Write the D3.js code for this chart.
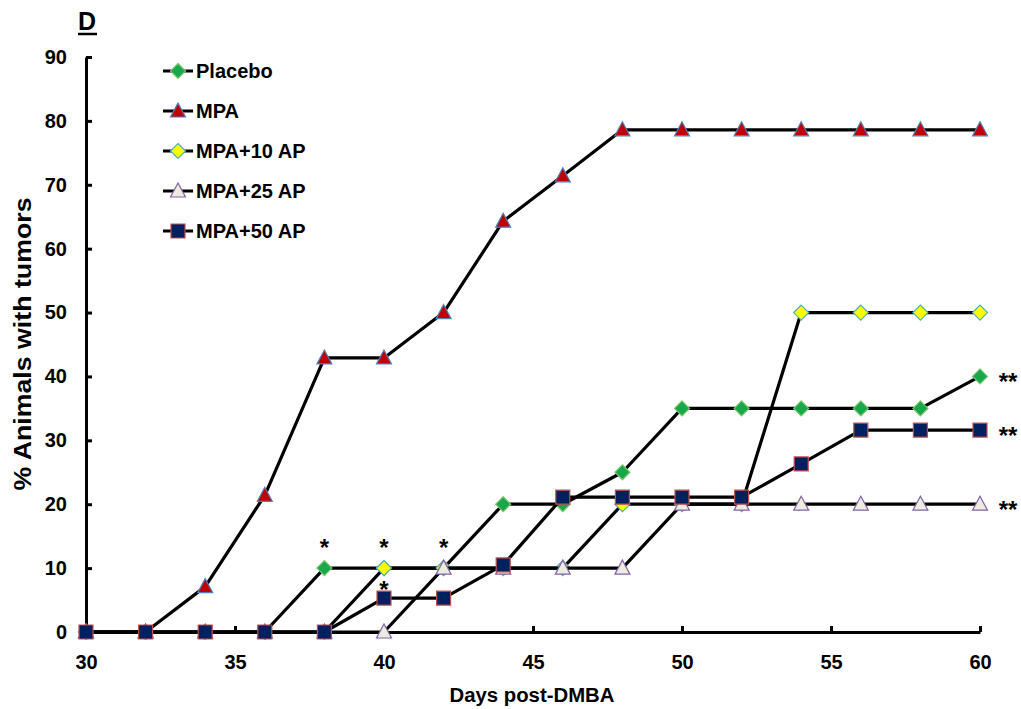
<!DOCTYPE html>
<html>
<head>
<meta charset="utf-8">
<script src="https://cdn.jsdelivr.net/npm/d3@7"></script>
<style>
  html, body { margin: 0; padding: 0; background: #fff; }
  svg { display: block; }
  text { font-family: "Liberation Sans", Arial, sans-serif; font-weight: bold; fill: #000; }
</style>
</head>
<body>
<svg id="chart" width="1021" height="709"></svg>
<script>
// ---- data ----
const days = [30, 32, 34, 36, 38, 40, 42, 44, 46, 48, 50, 52, 54, 56, 58, 60];
const placebo = [0, 0, 0, 0, 10, 10, 10, 20, 20, 25, 35, 35, 35, 35, 35, 40];
const mpa     = [0, 0, 7.1, 21.4, 42.9, 42.9, 50, 64.3, 71.4, 78.6, 78.6, 78.6, 78.6, 78.6, 78.6, 78.6];
const mpa10   = [0, 0, 0, 0, 0, 10, 10, 10, 10, 20, 20, 20, 50, 50, 50, 50];
const mpa25   = [0, 0, 0, 0, 0, 0, 10, 10, 10, 10, 20, 20, 20, 20, 20, 20];
const mpa50   = [0, 0, 0, 0, 0, 5.3, 5.3, 10.5, 21.1, 21.1, 21.1, 21.1, 26.3, 31.6, 31.6, 31.6];
const seriesNames = ["Placebo", "MPA", "MPA+10 AP", "MPA+25 AP", "MPA+50 AP"];
const xTicks = [30, 35, 40, 45, 50, 55, 60];
const yTicks = [0, 10, 20, 30, 40, 50, 60, 70, 80, 90];
const xTitle = "Days post-DMBA";
const yTitle = "% Animals with tumors";
const panelLabel = "D";
// significance marks: [day, series index, label, placement]
const marks = [
  [38, 0, "*", "above"],
  [40, 2, "*", "above"],
  [42, 3, "*", "above"],
  [40, 4, "*", "aboveNear"],
  [60, 0, "**", "right"],
  [60, 4, "**", "right"],
  [60, 3, "**", "right"]
];

// ---- styles ----
const styles = [
  { shape: "diamond",  fill: "#17a84b", stroke: "#7dc46e" },
  { shape: "triangle", fill: "#c00000", stroke: "#4f81bd" },
  { shape: "diamond",  fill: "#ffff00", stroke: "#4bacc6" },
  { shape: "triangle", fill: "#eeece1", stroke: "#8064a2" },
  { shape: "square",   fill: "#002060", stroke: "#c0504d" }
];
const allValues = [placebo, mpa, mpa10, mpa25, mpa50];

const svg = d3.select("#chart");
const x = d3.scaleLinear().domain([30, 60]).range([86, 980]);
const y = d3.scaleLinear().domain([0, 90]).range([632, 57]);

function shapePath(shape) {
  if (shape === "diamond") return "M0,-7.5L7.5,0L0,7.5L-7.5,0Z";
  if (shape === "triangle") return "M0,-8L7.5,6L-7.5,6Z";
  return "M-7,-7H7V7H-7Z";
}

// ---- axes ----
const xAxis = d3.axisBottom(x).tickValues(xTicks).tickSizeInner(-6).tickSizeOuter(0).tickPadding(23)
  .tickFormat(d3.format("d"));
const yAxis = d3.axisLeft(y).tickValues(yTicks).tickSizeInner(-6).tickSizeOuter(0).tickPadding(19)
  .tickFormat(d3.format("d"));

const gx = svg.append("g").attr("transform", "translate(0,632)").call(xAxis);
const gy = svg.append("g").attr("transform", "translate(86,0)").call(yAxis);
[gx, gy].forEach(g => {
  g.select(".domain").attr("stroke", "#000").attr("stroke-width", 3);
  g.selectAll(".tick line").attr("stroke", "#000").attr("stroke-width", 3);
  g.selectAll(".tick text").attr("font-size", 20).attr("font-family", "Liberation Sans, Arial, sans-serif")
    .attr("font-weight", "bold").attr("fill", "#000");
});

// axis titles
svg.append("text").attr("x", 532).attr("y", 702).attr("text-anchor", "middle")
  .attr("font-size", 19.5).attr("textLength", 165).attr("lengthAdjust", "spacingAndGlyphs").text(xTitle);
svg.append("text").attr("transform", "translate(31,344) rotate(-90)").attr("text-anchor", "middle")
  .attr("font-size", 23).attr("textLength", 293).attr("lengthAdjust", "spacingAndGlyphs").text(yTitle);

// panel label
svg.append("text").attr("x", 78).attr("y", 30).attr("font-size", 25).text(panelLabel);
svg.append("line").attr("x1", 78).attr("x2", 97).attr("y1", 34).attr("y2", 34)
  .attr("stroke", "#000").attr("stroke-width", 2.5);

// ---- series ----
const line = d3.line().x(d => x(d[0])).y(d => y(d[1]));
allValues.forEach((vals, i) => {
  const pts = days.map((d, j) => [d, vals[j]]);
  const g = svg.append("g");
  g.append("path").attr("d", line(pts)).attr("fill", "none").attr("stroke", "#000")
    .attr("stroke-width", 3.2).attr("stroke-linejoin", "round");
  g.selectAll("path.m").data(pts).join("path").attr("class", "m")
    .attr("transform", d => `translate(${x(d[0])},${y(d[1])})`)
    .attr("d", shapePath(styles[i].shape))
    .attr("fill", styles[i].fill).attr("stroke", styles[i].stroke).attr("stroke-width", 1.2);
});

// ---- significance marks ----
marks.forEach(([day, si, label, place]) => {
  const v = allValues[si][days.indexOf(day)];
  let px = x(day), py = y(v);
  if (place === "above") { py = py - 26; }
  else if (place === "aboveNear") { py = py - 14; }
  else if (place === "right") { px = px + 28; }
  svg.append("text").attr("x", px).attr("y", py + 14).attr("text-anchor", "middle")
    .attr("font-size", 24).text(label);
});

// ---- legend ----
const leg = svg.append("g");
seriesNames.forEach((name, i) => {
  const ly = 71 + i * 40;
  leg.append("line").attr("x1", 163).attr("x2", 193).attr("y1", ly).attr("y2", ly)
    .attr("stroke", "#000").attr("stroke-width", 3);
  leg.append("path").attr("transform", `translate(178,${ly})`).attr("d", shapePath(styles[i].shape))
    .attr("fill", styles[i].fill).attr("stroke", styles[i].stroke).attr("stroke-width", 1.2);
  leg.append("text").attr("x", 196).attr("y", ly + 7).attr("font-size", 20).text(name);
});
</script>
</body>
</html>
